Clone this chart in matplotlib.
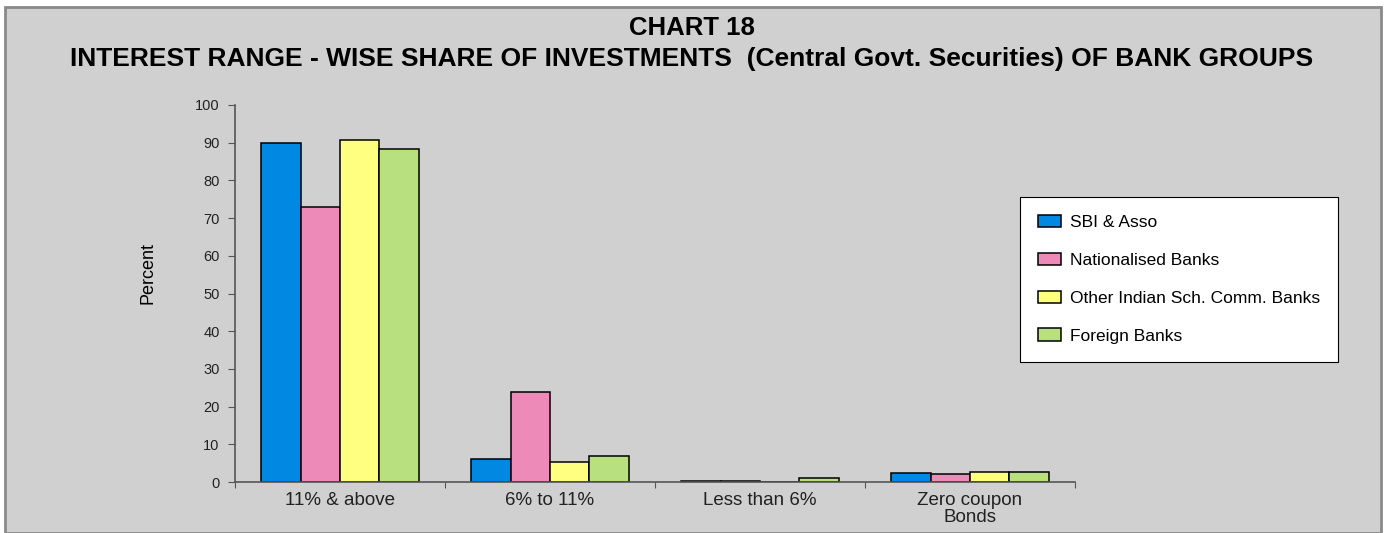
import matplotlib.pyplot as plt
import numpy as np
from matplotlib.patches import Rectangle

plt.rcParams["font.family"] = ["Liberation Sans", "DejaVu Sans"]

categories = ["11% & above", "6% to 11%", "Less than 6%", "Zero coupon\nBonds"]
groups = ["SBI & Asso", "Nationalised Banks", "Other Indian Sch. Comm. Banks", "Foreign Banks"]
sbi = [90.0, 6.0, 0.2, 2.3]
nationalised = [73.0, 23.9, 0.2, 2.1]
other_indian = [90.7, 5.3, 0.0, 2.6]
foreign = [88.4, 6.8, 1.0, 2.6]
colors = ["#0088E2", "#EE8AB8", "#FFFF80", "#B9E07E"]

W, H = 1385, 533
fig = plt.figure(figsize=(W / 100, H / 100), dpi=100, facecolor="white")

# grey panel with a darker frame, kept behind everything else
panel = Rectangle((5 / W, 0), 1376 / W, 1 - 7 / H, transform=fig.transFigure,
                  facecolor="#D0D0D0", edgecolor="#8A8A8A", linewidth=2, zorder=-10)
fig.add_artist(panel)

ax = fig.add_axes([235 / W, 51 / H, 840 / W, 377 / H])
ax.set_facecolor("none")

x = np.arange(len(categories)) + 0.5
width = 0.187
series = [sbi, nationalised, other_indian, foreign]
for i, (vals, name, col) in enumerate(zip(series, groups, colors)):
    ax.bar(x + (i - 1.5) * width, vals, width, color=col, edgecolor="black",
           linewidth=1.1, label=name, zorder=2)

ax.set_xlim(0, 4)
ax.set_ylim(0, 100)
ax.set_yticks(np.arange(0, 101, 10))
ax.tick_params(axis="y", labelsize=10.5, length=5, color="#555555", pad=6,
               labelcolor="#222222")

# category boundaries get the ticks, names sit between them
ax.set_xticks(np.arange(0, 5))
ax.set_xticklabels([])
ax.tick_params(axis="x", which="major", length=4, color="#555555")
ax.set_xticks(x, minor=True)
ax.set_xticklabels(categories, minor=True, fontsize=13.5, color="#222222",
                   linespacing=1.05)
ax.tick_params(axis="x", which="minor", length=0, pad=7)

for side in ("top", "right"):
    ax.spines[side].set_visible(False)
for side in ("left", "bottom"):
    ax.spines[side].set_color("#555555")
    ax.spines[side].set_linewidth(1.2)

ax.set_ylabel("Percent", fontsize=13)
ax.yaxis.set_label_coords(-0.093, 0.554)

fig.text(692 / W, 1 - 28 / H, "CHART 18", ha="center", va="center",
         fontsize=18.5, fontweight="bold")
fig.text(692 / W, 1 - 59 / H,
         "INTEREST RANGE - WISE SHARE OF INVESTMENTS  (Central Govt. Securities) OF BANK GROUPS",
         ha="center", va="center", fontsize=19, fontweight="bold")

leg = ax.legend(loc="upper left", bbox_to_anchor=(1020 / W, 1 - 197 / H),
                bbox_transform=fig.transFigure, fontsize=12.5, frameon=True,
                fancybox=False, framealpha=1, edgecolor="black",
                labelspacing=1.3, handlelength=1.32, handleheight=0.7,
                handletextpad=0.5, borderpad=1.05, borderaxespad=0)
leg.get_frame().set_linewidth(0.8)

fig.savefig("out.png", dpi=100, facecolor=fig.get_facecolor())
